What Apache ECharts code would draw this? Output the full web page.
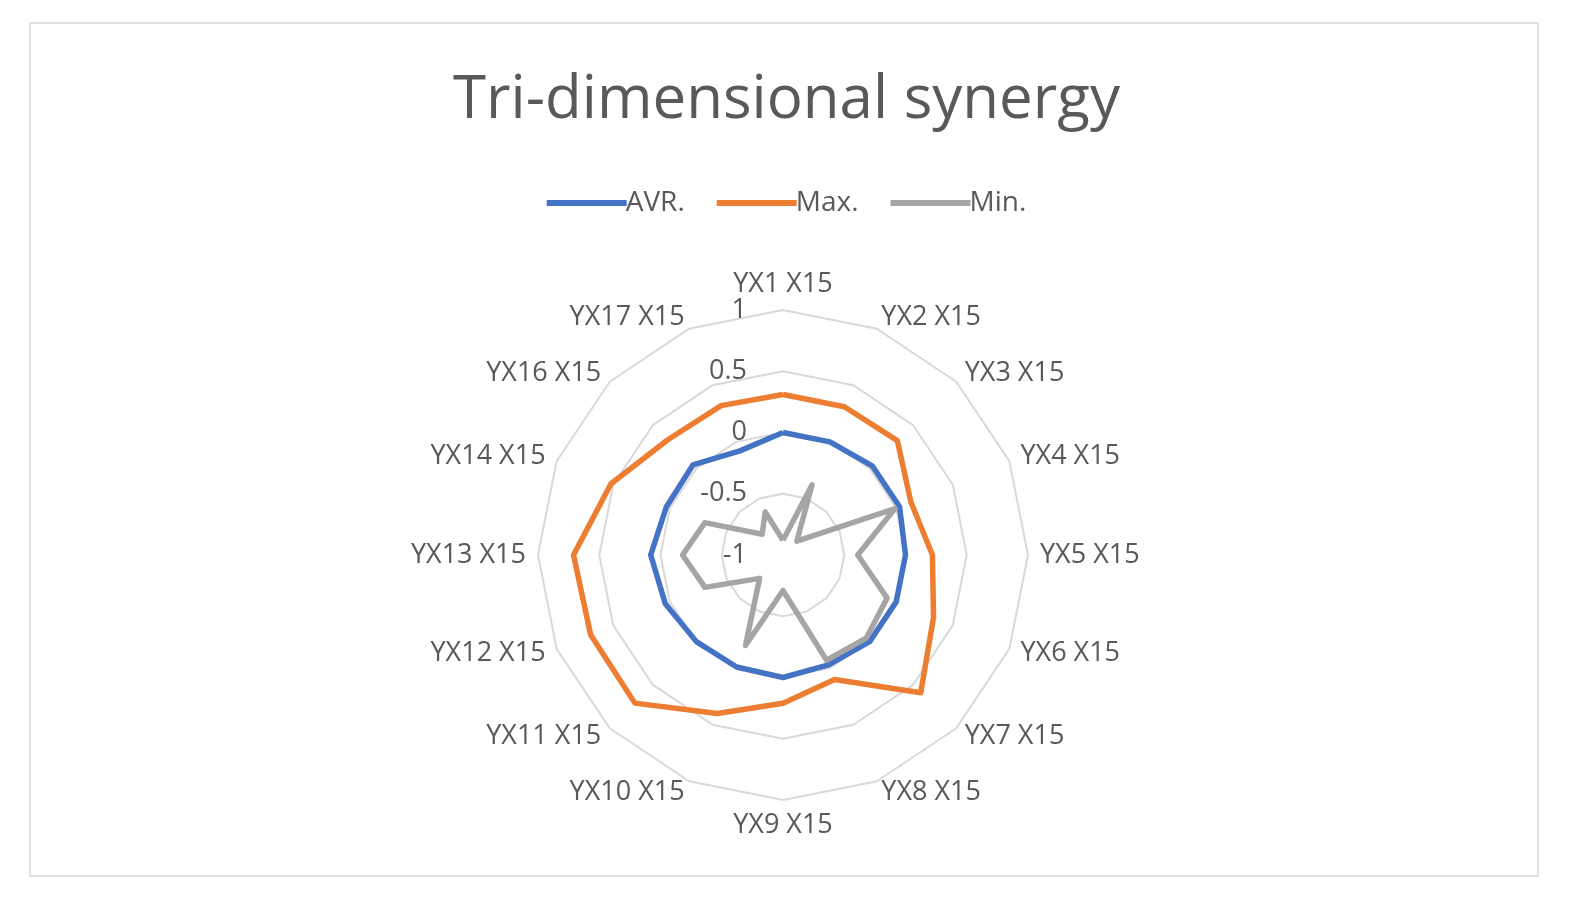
<!DOCTYPE html>
<html><head><meta charset="utf-8">
<script src="https://cdn.jsdelivr.net/npm/echarts@6/dist/echarts.min.js"></script>
<style>html,body{margin:0;padding:0;background:#fff}#c{width:1573px;height:902px}</style>
</head><body><div id="c"></div>
<script>
const categories = ['YX1 X15','YX2 X15','YX3 X15','YX4 X15','YX5 X15','YX6 X15','YX7 X15','YX8 X15','YX9 X15','YX10 X15','YX11 X15','YX12 X15','YX13 X15','YX14 X15','YX16 X15','YX17 X15'];
const avr = [0.0,0.0,0.03,0.03,0.0,0.0,0.0,-0.03,0.0,-0.01,0.0,0.04,0.08,0.03,0.04,-0.08];
const maxV = [0.31,0.31,0.32,0.13,0.22,0.33,0.59,0.1,0.21,0.4,0.71,0.7,0.71,0.52,0.33,0.32];
const minV = [-0.88,-0.38,-0.84,-0.01,-0.39,-0.08,-0.04,-0.07,-0.71,-0.2,-0.73,-0.31,-0.18,-0.31,-0.76,-0.62];
// radar draws counter-clockwise; reorder so categories run clockwise
const cw = a => [a[0]].concat(a.slice(1).reverse());
const FONT = 'Open Sans, Noto Sans, sans-serif';
const chart = echarts.init(document.getElementById('c'));
chart.setOption({
  animation:false,
  graphic:[{type:'rect',shape:{x:30,y:23,width:1508,height:853},style:{fill:'none',stroke:'#d9d9d9',lineWidth:1.5}}],
  title:{text:'Tri-dimensional synergy',left:'center',top:66,textStyle:{fontFamily:FONT,fontSize:60,fontWeight:'normal',color:'#595959'}},
  legend:{top:184,left:'center',itemWidth:80,itemHeight:6,itemGap:32,icon:'rect',
    textStyle:{fontFamily:FONT,fontSize:28,color:'#595959',padding:[0,0,0,-6]},data:['AVR.','Max.','Min.']},
  radar:{center:[783,555],radius:245,shape:'polygon',startAngle:90,splitNumber:4,
    indicator:cw(categories).map(n=>({name:n,min:-1,max:1})),
    axisName:{fontFamily:FONT,fontSize:27,color:'#595959'},nameGap:12,
    splitLine:{lineStyle:{color:'#d9d9d9',width:2}},splitArea:{show:false},axisLine:{show:false},axisTick:{show:false},axisLabel:{show:false}},
  polar:{center:[783,555],radius:245},
  angleAxis:{show:false,startAngle:90,min:0,max:360},
  radiusAxis:{min:-1,max:1,interval:0.5,axisLine:{show:false},axisTick:{show:false},splitLine:{show:false},
    axisLabel:{fontFamily:FONT,fontSize:27,color:'#595959',margin:36,align:'right',verticalAlign:'middle'}},
  series:[{type:'radar',symbol:'none',data:[
    {name:'AVR.',value:cw(avr),lineStyle:{color:'#4472C4',width:5.5},itemStyle:{color:'#4472C4'}},
    {name:'Max.',value:cw(maxV),lineStyle:{color:'#ED7D31',width:5.5},itemStyle:{color:'#ED7D31'}},
    {name:'Min.',value:cw(minV),lineStyle:{color:'#A5A5A5',width:5.5},itemStyle:{color:'#A5A5A5'}}]}]
});
</script></body></html>
